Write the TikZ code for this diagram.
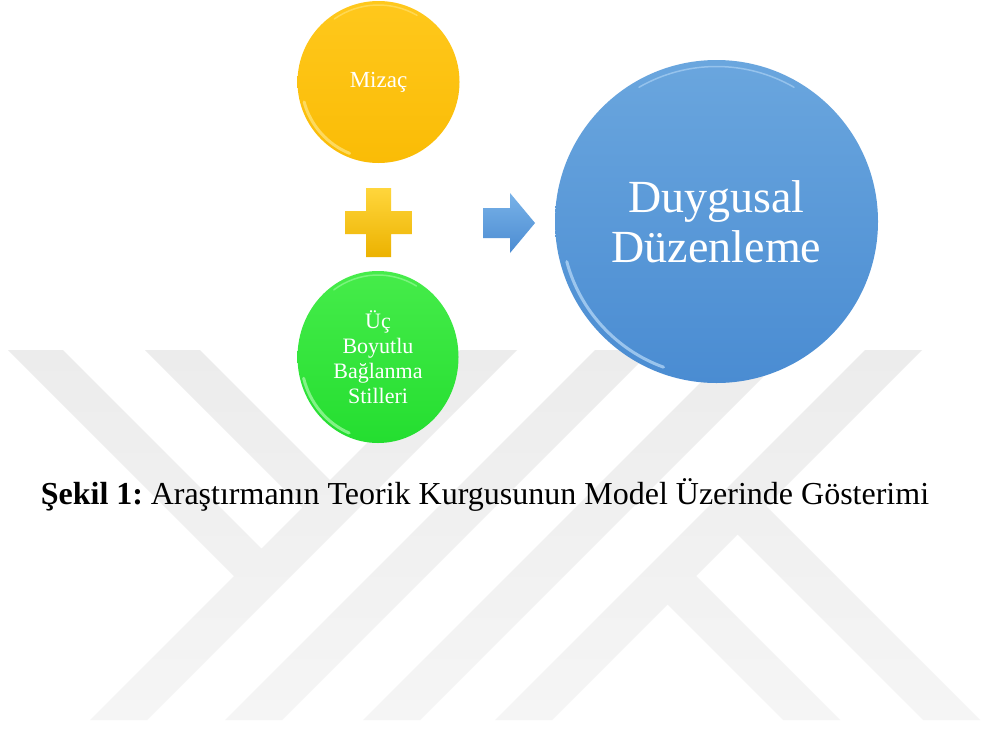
\documentclass[tikz,border=0pt]{standalone}
\usepackage{fontspec}
\setmainfont{Liberation Serif}
\usetikzlibrary{shapes.geometric}
\definecolor{wm}{RGB}{236,236,236}
\definecolor{wmlight}{RGB}{245,245,245}
\definecolor{yelbase}{RGB}{250,188,6}
\definecolor{yeltop}{RGB}{255,200,28}
\definecolor{yelrim}{RGB}{255,236,150}
\definecolor{grnbase}{RGB}{36,222,48}
\definecolor{grntop}{RGB}{70,236,74}
\definecolor{grnrim}{RGB}{190,255,190}
\definecolor{blubase}{RGB}{74,140,210}
\definecolor{blutop}{RGB}{106,166,222}
\definecolor{blurim}{RGB}{205,232,255}
\definecolor{plustop}{RGB}{255,214,60}
\definecolor{plusbase}{RGB}{236,178,0}
\definecolor{arrtop}{RGB}{120,178,232}
\definecolor{arrbase}{RGB}{76,140,210}
\begin{document}
\begin{tikzpicture}[x=1pt,y=-1pt,
  ball/.style={circle,inner sep=0pt,text=white,align=center},
  gloss/.style={line width=3pt,line cap=round,opacity=0.6},
  thingloss/.style={line width=1.5pt,line cap=round,opacity=0.45}]
\useasboundingbox[fill=white] (0,0) rectangle (984,731);
% watermark
\begin{scope}
\clip (460,350)--(517,350)--(147,720)--(90,720)--cycle
      (595,350)--(652,350)--(282,720)--(225,720)--cycle
      (733,350)--(790,350)--(420,720)--(363,720)--cycle
      (865,350)--(922,350)--(552,720)--(495,720)--cycle
      (8,350)--(63,350)--(261.5,548.5)--(234,576)--cycle
      (145,350)--(200,350)--(330,480)--(302.5,507.5)--cycle
      (667.5,604.5)--(696,576)--(840,720)--(783,720)--cycle
      (737.5,534.5)--(766,506)--(980,720)--(923,720)--cycle;
\shade[top color=wm,bottom color=wmlight] (0,350) rectangle (984,720);
\end{scope}
% circles
\node[ball,minimum size=162pt,top color=yeltop,bottom color=yelbase,
      font=\fontsize{23}{27}\selectfont] (mizac) at (378.5,82) {Mizaç};
\draw[gloss,yelrim] (mizac.center) ++(112:77) arc[start angle=112,end angle=165,radius=77];
\draw[thingloss,yelrim] (mizac.center) ++(235:77) arc[start angle=235,end angle=300,radius=77];
\node[ellipse,inner sep=0pt,minimum width=161pt,minimum height=172pt,
      top color=grntop,bottom color=grnbase,text=white,align=center,
      font=\fontsize{22}{25}\selectfont] (uc) at (378,357) {Üç\\Boyutlu\\Bağlanma\\Stilleri};
\draw[gloss,grnrim] (uc.center) ++(112:77 and 82) arc[start angle=112,end angle=165,x radius=77,y radius=82];
\draw[thingloss,grnrim] (uc.center) ++(235:77 and 82) arc[start angle=235,end angle=300,x radius=77,y radius=82];
\node[ball,minimum size=323pt,top color=blutop,bottom color=blubase,
      font=\fontsize{46}{50}\selectfont] (dd) at (716.5,221.5) {Duygusal\\Düzenleme};
\draw[gloss,blurim] (dd.center) ++(110:155) arc[start angle=110,end angle=165,radius=155];
\draw[thingloss,blurim] (dd.center) ++(240:155) arc[start angle=240,end angle=300,radius=155];
% plus
\shade[top color=plustop,bottom color=plusbase]
  (366,188)--(391,188)--(391,211)--(412,211)--(412,234)--(391,234)--(391,257)
  --(366,257)--(366,234)--(345,234)--(345,211)--(366,211)--cycle;
% arrow
\shade[top color=arrtop,bottom color=arrbase]
  (483,208)--(510,208)--(510,193)--(535,223)--(510,253)--(510,238)--(483,238)--cycle;
% caption
\node[anchor=base,font=\fontsize{32}{36}\selectfont] (cap) at (485,504)
  {\textbf{Şekil 1:}\hspace{-3pt} Araştırmanın Teorik Kurgusunun Model Üzerinde Gösterimi};
\end{tikzpicture}
\end{document}
